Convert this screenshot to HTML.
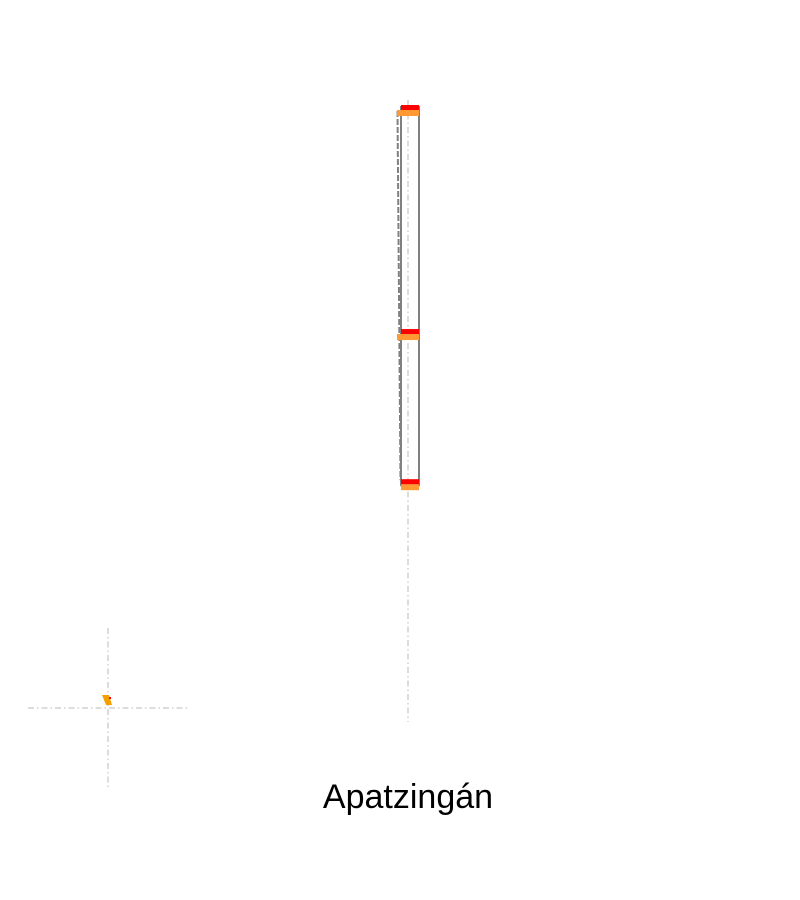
<!DOCTYPE html>
<html><head><meta charset="utf-8"><style>
html,body{margin:0;padding:0;background:#fff;width:800px;height:900px;overflow:hidden}
svg{display:block}
</style></head><body>
<svg id="chart" width="800" height="900" viewBox="0 0 800 900" xmlns="http://www.w3.org/2000/svg">
<g id="guides">
<line x1="408" y1="100" x2="408" y2="722" stroke="#dcdcdc" stroke-width="2" stroke-dasharray="6,3,1.5,3"/>
<line x1="28" y1="708" x2="188" y2="708" stroke="#dcdcdc" stroke-width="2" stroke-dasharray="6,3,1.5,3"/>
<line x1="108" y1="628" x2="108" y2="788" stroke="#dcdcdc" stroke-width="2" stroke-dasharray="6,3,1.5,3"/>
</g>
<g id="marks"></g>
<path d="M102,695 L109,695 L112,705 L106,705 Z" fill="#f5a000"/>
<rect x="109" y="697" width="2" height="2" fill="#f00"/>
<text x="408" y="808" text-anchor="middle" font-family="Liberation Sans, sans-serif" font-size="34" fill="#000">Apatzingán</text>
</svg>
<script>
const categories = ["Apatzingán"];
const levels = [100, 41.5, 2.3];
const levelNames = ["top", "middle", "bottom"];
const yMin = 0, yMax = 100;
function yScale(v){ return 489 - (v - yMin) / (yMax - yMin) * 383; }
const NS = "http://www.w3.org/2000/svg";
const marksG = document.getElementById("marks");
function mk(tag, attrs){ const e = document.createElementNS(NS, tag); for (const k in attrs) e.setAttribute(k, attrs[k]); marksG.appendChild(e); return e; }
const yTop = yScale(Math.max(...levels)), yBot = yScale(Math.min(...levels));
const box = mk("rect", {x:401, y:yTop+1, width:18, height:yBot-yTop+4, fill:"none", stroke:"#808080", "stroke-width":2});


const d1 = mk("line", {x1:397.5, y1:yTop+5, x2:400.5, y2:yBot, stroke:"#808080", "stroke-width":2, "stroke-dasharray":"6,2"});


levels.forEach((v, i) => {
  const yy = yScale(v);
  const wide = i < 2;
  const o = mk("rect", {x: wide ? 397 : 401, y:yy+4, width: wide ? 22 : 18, height:6, fill:"#ff9933"});
  
  
  const r = mk("rect", {x:401, y:yy-1, width:18, height:5, fill:"#ff0000"});
  
  
});
</script>
</body></html>
